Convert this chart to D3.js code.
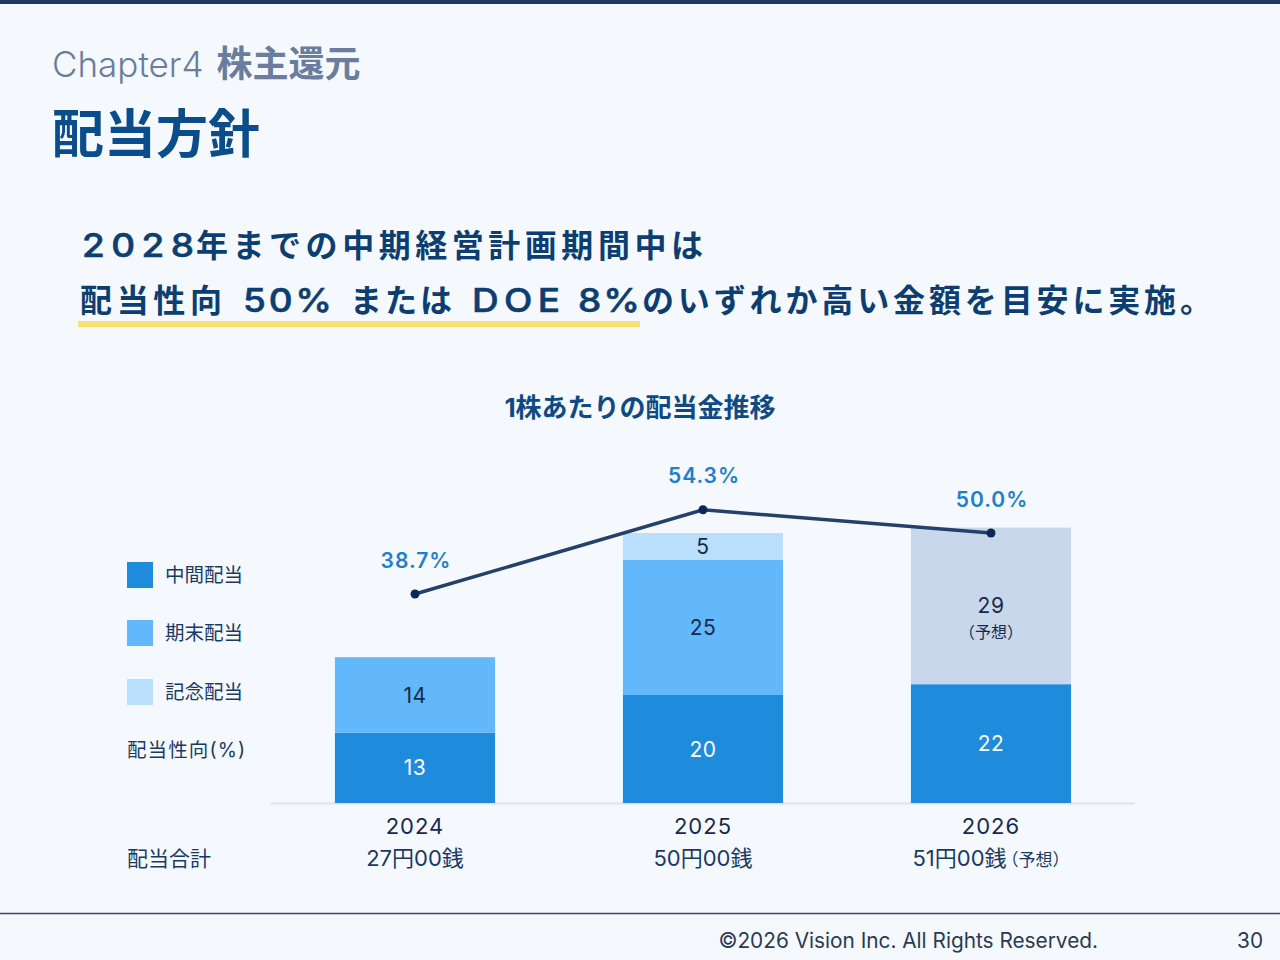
<!DOCTYPE html>
<html><head><meta charset="utf-8">
<script src="https://cdn.jsdelivr.net/npm/d3@7"></script>
<style>
html,body{margin:0;padding:0;background:#f5f9fe;}
svg{display:block;font-family:"Inter","Noto Sans CJK JP",sans-serif;}
</style></head><body>
<svg id="c" width="1280" height="960"></svg>
<script>
const years = ["2024","2025","2026"];
const interim = [13, 20, 22];
const yearEnd = [14, 25, 29];
const commemorative = [0, 5, 0];
const forecast = [false, false, true];
const payoutRatio = [38.7, 54.3, 50.0];
const totals = ["27円00銭", "50円00銭", "51円00銭"];
const seriesNames = ["中間配当", "期末配当", "記念配当"];

const colors = {interim:"#1e8bdc", yearEnd:"#63b8fb", commem:"#b9dffd", forecast:"#c8d7eb"};
const CJK = '"Noto Sans CJK JP",sans-serif';
const svg = d3.select("#c");

// page frame
svg.append("rect").attr("x",0).attr("y",0).attr("width",1280).attr("height",4).attr("fill","#1f3a5f");
svg.append("text").attr("x",52).attr("y",77).attr("font-size",35).attr("fill","#6a7d9e")
  .html('<tspan font-weight="300">Chapter4</tspan><tspan dx="13" font-weight="700" font-size="36">株主還元</tspan>');
svg.append("text").attr("x",52).attr("y",153).attr("font-size",52).attr("font-weight",700).attr("fill","#0b4c8a")
  .attr("font-family",CJK).text("配当方針");

// lead text (segments fitted to the reference widths)
svg.append("rect").attr("x",78).attr("y",321).attr("width",562).attr("height",6).attr("fill","#ffdf6e");
const leadSegs = [
  ["2028",82,194,257,1],["年までの中期経営計画期間中は",196,703,257,0],
  ["配当性向",80,222,312,0],["50%",243,332,312,1],["または",350,452,312,0],["DOE",472,560,312,1],["8%",578,640,312,1],
  ["のいずれか高い金額を目安に実施。",642,1212,312,0]
];
leadSegs.forEach(s=>{
  const sx = s[4]?1.12:1;
  svg.append("text").attr("transform",`translate(${s[1]},${s[3]}) scale(${sx},1)`)
    .attr("font-size",s[4]?33:32).attr("font-weight",s[4]?500:700)
    .attr("font-family",s[4]?'"Inter",sans-serif':CJK).attr("fill","#0d3e72")
    .attr("stroke",s[4]?"#0d3e72":"none").attr("stroke-width",s[4]?0.6:0)
    .attr("textLength",(s[2]-s[1])/sx).attr("lengthAdjust","spacing").text(s[0]);
});

svg.append("text").attr("x",640).attr("y",417).attr("text-anchor","middle").attr("font-size",26).attr("font-weight",700)
  .attr("fill","#0f4a85").text("1株あたりの配当金推移");

// scales
const x = d3.scaleBand().domain(years).range([271,1135]).paddingInner(0.444).paddingOuter(0.222);
const y = d3.scaleLinear().domain([0,60]).range([803,479]);
const yr = d3.scaleLinear().domain([0,60]).range([803,479]);

// baseline
svg.append("line").attr("x1",271).attr("x2",1135).attr("y1",y(0)+0.5).attr("y2",y(0)+0.5).attr("stroke","#dde3ea").attr("stroke-width",2);

const rows = years.map((yv,i)=>({year:yv,interim:interim[i],yearEnd:yearEnd[i],commem:commemorative[i],fc:forecast[i]}));
const stack = d3.stack().keys(["interim","yearEnd","commem"])(rows);

const g = svg.append("g");
stack.forEach(layer=>{
  const segs = layer.filter(d=>d[1]-d[0]>0);
  g.selectAll(null).data(segs).enter().append("rect")
    .attr("x",d=>x(d.data.year)).attr("width",x.bandwidth())
    .attr("y",d=>y(d[1])).attr("height",d=>y(d[0])-y(d[1]))
    .attr("fill",d=>{
      if(layer.key==="interim") return colors.interim;
      if(layer.key==="yearEnd") return d.data.fc?colors.forecast:colors.yearEnd;
      return colors.commem;
    });
  g.selectAll(null).data(segs).enter().append("text")
    .attr("x",d=>x(d.data.year)+x.bandwidth()/2)
    .attr("y",d=>(y(d[0])+y(d[1]))/2)
    .attr("dy","0.36em").attr("text-anchor","middle").attr("font-size",21).attr("letter-spacing",0.5)
    .attr("fill",layer.key==="interim"?"#ffffff":"#172a4e")
    .text(d=>d[1]-d[0]);
  g.selectAll(null).data(segs.filter(d=>d.data.fc && layer.key==="yearEnd")).enter().append("text")
    .attr("x",d=>x(d.data.year)+x.bandwidth()/2)
    .attr("y",d=>(y(d[0])+y(d[1]))/2+26)
    .attr("dy","0.36em").attr("text-anchor","middle").attr("font-size",16)
    .attr("fill","#172a4e").text("（予想）");
});

// payout ratio line
const pts = years.map((yv,i)=>({year:yv,v:payoutRatio[i]}));
const line = d3.line().x(d=>x(d.year)+x.bandwidth()/2).y(d=>yr(d.v));
svg.append("path").datum(pts).attr("d",line).attr("fill","none").attr("stroke","#25416b").attr("stroke-width",3.5);
svg.selectAll(null).data(pts).enter().append("circle")
  .attr("cx",d=>x(d.year)+x.bandwidth()/2).attr("cy",d=>yr(d.v)).attr("r",4.5).attr("fill","#0b2857");
svg.selectAll(null).data(pts).enter().append("text")
  .attr("x",d=>x(d.year)+x.bandwidth()/2+1).attr("y",d=>yr(d.v)-34)
  .attr("dy","0.36em").attr("text-anchor","middle").attr("font-size",21).attr("font-weight",600)
  .attr("fill","#1d7fcf").attr("letter-spacing",1).text(d=>d.v.toFixed(1)+"%");

// x axis labels
const ax = svg.append("g").attr("transform",`translate(0,${y(0)})`)
  .call(d3.axisBottom(x).tickSize(0).tickPadding(23));
ax.select(".domain").remove();
ax.selectAll("text").attr("font-size",22).attr("fill","#172a4e").attr("font-family",'"Inter","Noto Sans CJK JP",sans-serif')
  .attr("dy","0.36em").attr("letter-spacing",1);

svg.selectAll(null).data(years).enter().append("text")
  .attr("x",(d,i)=>x(d)+x.bandwidth()/2).attr("y",858).attr("dy","0.36em")
  .attr("text-anchor","middle").attr("font-size",22).attr("fill","#1a3a66")
  .html((d,i)=>forecast[i]?`${totals[i]}<tspan font-size="17" dx="-5">（予想）</tspan>`:totals[i]);

// legend
const legColors=[colors.interim,colors.yearEnd,colors.commem];
const legY=[575,633,692];
seriesNames.forEach((n,i)=>{
  svg.append("rect").attr("x",127).attr("y",legY[i]-13).attr("width",26).attr("height",26).attr("fill",legColors[i]);
  svg.append("text").attr("x",165).attr("y",legY[i]).attr("dy","0.36em").attr("font-size",19.5).attr("fill","#1a3a66").text(n);
});
svg.append("text").attr("x",127).attr("y",750).attr("dy","0.36em").attr("font-size",19.5).attr("fill","#1a3a66")
  .attr("textLength",118).attr("lengthAdjust","spacing").text("配当性向(%)");
svg.append("text").attr("x",127).attr("y",858).attr("dy","0.36em").attr("font-size",21).attr("fill","#1a3a66").text("配当合計");

// footer
svg.append("line").attr("x1",0).attr("x2",1280).attr("y1",913.5).attr("y2",913.5).attr("stroke","#3b4a60").attr("stroke-width",1.5);
svg.append("text").attr("x",1098).attr("y",941).attr("dy","0.36em").attr("text-anchor","end").attr("font-size",20.8).attr("fill","#2a3a55").text("©2026 Vision Inc. All Rights Reserved.");
svg.append("text").attr("x",1263).attr("y",941).attr("dy","0.36em").attr("text-anchor","end").attr("font-size",20.8).attr("fill","#2a3a55").text("30");
</script></body></html>
